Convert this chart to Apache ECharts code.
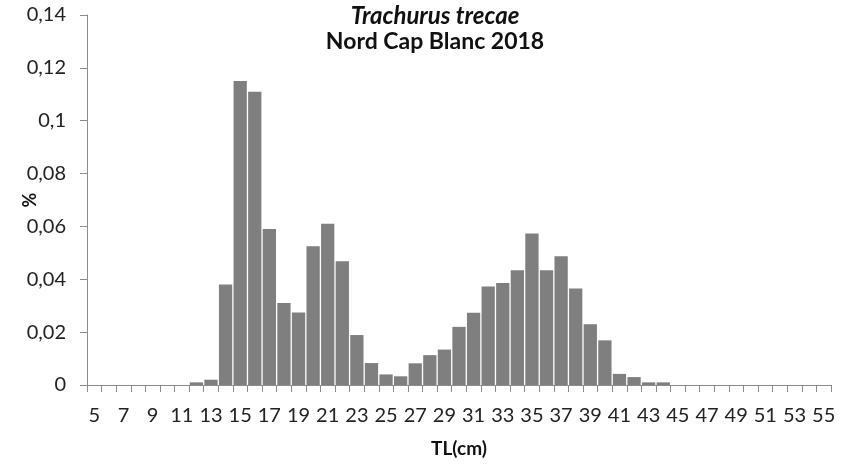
<!DOCTYPE html>
<html>
<head>
<meta charset="utf-8">
<script src="https://cdn.jsdelivr.net/npm/echarts@6/dist/echarts.min.js"></script>
<style>
  html, body { margin: 0; padding: 0; background: #fff; }
  #chart { width: 856px; height: 467px; }
</style>
</head>
<body>
<div id="chart"></div>
<script>
// longueur totale (cm), 5 -> 55
var lengths = [];
for (var l = 5; l <= 55; l++) lengths.push(String(l));

// fréquences relatives
var freq = [
  0, 0, 0, 0, 0, 0, 0,            // 5-11
  0.001, 0.002, 0.038, 0.115, 0.111, 0.059, 0.031, 0.0274, // 12-19
  0.0525, 0.061, 0.0468, 0.0189, 0.0083, 0.004, 0.0033,    // 20-26
  0.0082, 0.0113, 0.0134, 0.022, 0.0273, 0.0373, 0.0386,   // 27-33
  0.0434, 0.0573, 0.0434, 0.0487, 0.0365, 0.023, 0.0169,   // 34-40
  0.0042, 0.003, 0.001, 0.001,    // 41-44
  0, 0, 0, 0, 0, 0, 0, 0, 0, 0, 0 // 45-55
];

var titleLines = ["Trachurus trecae", "Nord Cap Blanc 2018"];

var chart = echarts.init(document.getElementById("chart"));
var font = "Lato, 'Liberation Sans', sans-serif";

var option = {
  animation: false,
  title: {
    text: "{a|" + titleLines[0] + "}\n{b|" + titleLines[1] + "}",
    left: 435,
    top: 4,
    padding: 0,
    textAlign: "center",
    textStyle: {
      rich: {
        a: { fontFamily: font, fontSize: 24, fontWeight: "bold", fontStyle: "italic", color: "#111", lineHeight: 25 },
        b: { fontFamily: font, fontSize: 23, fontWeight: "bold", color: "#111", lineHeight: 25 }
      }
    }
  },
  grid: { left: 87, right: 25, top: 15, bottom: 82, containLabel: false, outerBoundsMode: "none" },
  xAxis: {
    type: "category",
    data: lengths,
    name: "TL(cm)",
    nameLocation: "middle",
    nameGap: 54,
    nameMoveOverlap: false,
    nameTextStyle: { fontFamily: font, fontSize: 19, fontWeight: "bold", color: "#111" },
    axisLine: { lineStyle: { color: "#8c8c8c", width: 1 } },
    axisTick: { show: true, interval: 0, length: 7, lineStyle: { color: "#8c8c8c" } },
    axisLabel: { interval: 1, margin: 21, fontFamily: font, fontSize: 20, color: "#222" }
  },
  yAxis: {
    type: "value",
    min: 0,
    max: 0.14,
    interval: 0.02,
    name: "%",
    nameLocation: "middle",
    nameGap: 48,
    nameMoveOverlap: false,
    nameRotate: 90,
    nameTextStyle: { fontFamily: font, fontSize: 18, fontWeight: "bold", color: "#111" },
    axisLine: { show: true, lineStyle: { color: "#8c8c8c", width: 1 } },
    axisTick: { show: true, length: 7, lineStyle: { color: "#8c8c8c" } },
    splitLine: { show: false },
    axisLabel: {
      margin: 21,
      fontFamily: font,
      fontSize: 20,
      color: "#222",
      formatter: function (v) { return String(parseFloat(v.toFixed(2))).replace(".", ","); }
    }
  },
  series: [{
    type: "bar",
    data: freq,
    barCategoryGap: "9%",
    itemStyle: { color: "#7f7f7f" }
  }]
};

chart.setOption(option);
</script>
</body>
</html>
